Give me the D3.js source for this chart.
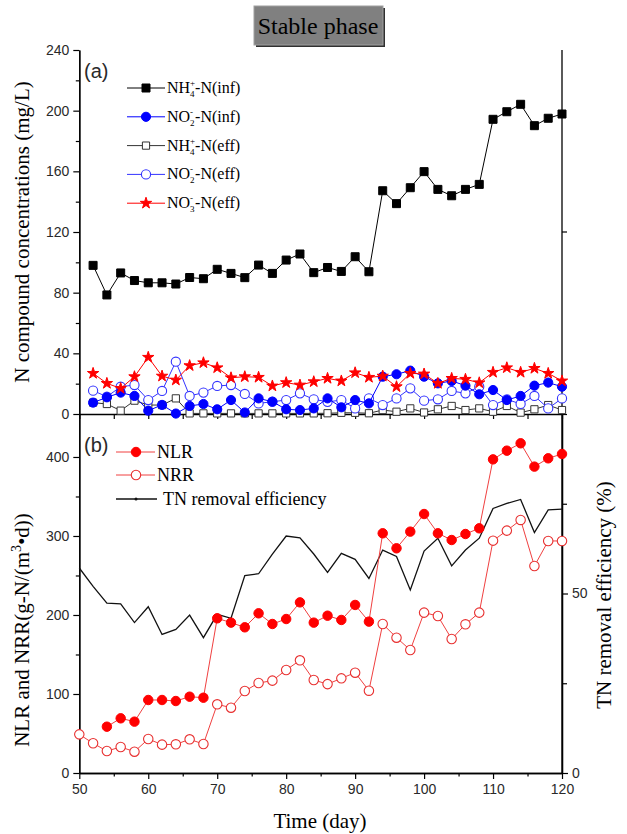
<!DOCTYPE html>
<html>
<head>
<meta charset="utf-8">
<script src="https://cdn.jsdelivr.net/npm/d3@7"></script>
<style>
  body { margin: 0; background: #fff; }
  text { font-family: "Liberation Serif", "Times New Roman", serif; }
  .tick text, .ticklbl { font-family: "Liberation Sans", Arial, sans-serif; font-size: 14px; fill: #2a2a2a; }
</style>
</head>
<body>
<div id="chart"></div>
<script>
'use strict';

// ---- data ----
var daysA = [52,54,56,58,60,62,64,66,68,70,72,74,76,78,80,82,84,86,88,90,92,94,96,98,100,102,104,106,108,110,112,114,116,118,120];
var nh4Inf = [98,78.5,93,88,86.5,86.5,85.7,90,89.2,95.4,92.7,89.9,98.2,92.7,101.5,105.5,93.2,96.6,94,103.7,93.8,147.2,138.7,149.2,159.8,148.1,143.9,148.1,151.4,194.3,199.3,204.2,190.1,195,197.8];
var no2Inf = [7.5,11,14.1,11.9,2.2,6,0.3,5.3,6.6,3.1,9.2,1,10.3,8.1,3.1,2.6,3.7,10.3,4.4,9.2,7,24.6,26.2,28.6,24.6,20.2,21.8,18.7,13,15.8,9.2,11.9,18.7,20.7,18];
var nh4Eff = [7.5,6.6,2.2,8.8,5.9,5.9,10.3,0.4,0.4,0.4,0.4,0.4,0.4,0.4,0.4,0.4,0.4,0.5,0.8,0.8,0.5,2.6,1.5,3.7,1,3.1,5.3,2.6,3.7,1.5,5.3,0.9,3.1,5.9,2.6];
var no2Eff = [15.4,11.4,18,19.1,9.2,15.2,34.5,11.9,14.1,18.5,19.1,13.2,7,8.1,9.2,13.6,9.7,8,9.2,3.7,10.3,5.9,10.3,16.9,8.8,9.7,15.2,13.6,18,5.9,9.7,6.6,11.9,3.7,10.3];
var no3Eff = [26.8,20.2,16.9,24.6,37.4,25,22.4,31.9,33.8,30.5,23.9,24.6,24.2,18.5,20.7,19.1,21.3,23.5,21.8,27.2,24.2,25,18,26.8,26.4,20.2,23.5,22.9,20.6,27.5,30.5,27.5,30.1,26.8,21.8];

var nlrDays = [54,56,58,60,62,64,66,68,70,72,74,76,78,80,82,84,86,88,90,92,94,96,98,100,102,104,106,108,110,112,114,116,118,120];
var nlr = [58.6,69.2,65,92.4,92.4,91.1,96.6,95.3,195.8,190.3,184.4,202.1,188.6,194.9,216,190.3,199.1,193.7,212.7,191.6,303.4,284.4,305.5,327.8,303.4,294.9,302.5,309.7,397,408,417.3,387.8,398.3,403.8];
var daysB = [50,52,54,56,58,60,62,64,66,68,70,72,74,76,78,80,82,84,86,88,90,92,94,96,98,100,102,104,106,108,110,112,114,116,118,120];
var nrr = [48.9,37.6,27.8,32.9,27,43,35.9,36.3,42.6,36.7,86.9,82.7,103.8,113.9,116.9,130.4,142.6,117.7,112.5,119.8,127,104.2,188.6,171.3,155.7,203,198.7,169.6,188.2,203,294.1,306.8,320.3,262,293.7,293.7];
var tnEff = [57.1,52,47.3,47.1,41.9,46.3,38.6,40,44,37.7,44.2,43.1,55,55.5,61,66,65.5,61,55.9,61.2,59.5,54.2,62.1,60.3,51,61.8,65.4,57.7,62.1,65.4,73.7,75.1,76.2,67,73.3,73.5];

var xTicks = [50,60,70,80,90,100,110,120];
var yTicksA = [0,40,80,120,160,200,240];
var yTicksB = [0,100,200,300,400];
var yTicksR = [0,50];

// ---- svg ----
var svg = d3.select("#chart").append("svg")
    .attr("width", 627)
    .attr("height", 834);

var x = d3.scaleLinear().domain([50, 120]).range([79.3, 562]);
var ya = d3.scaleLinear().domain([0, 240]).range([414, 50]);
var yb = d3.scaleLinear().domain([0, 454.4]).range([773, 414]);
var yr = d3.scaleLinear().domain([0, 100]).range([773, 414]);

// title box
svg.append("rect").attr("x", 256).attr("y", 8).attr("width", 129).attr("height", 39).attr("fill", "#303030");
svg.append("rect").attr("x", 254).attr("y", 6).attr("width", 129).attr("height", 39)
    .attr("fill", "#808080").attr("stroke", "#a0a0a0").attr("stroke-width", 1);
svg.append("text").attr("x", 318).attr("y", 34).attr("text-anchor", "middle")
    .attr("font-size", 24).attr("fill", "#000").text("Stable phase");

// ---- axes ----
function styleAxis(g) {
    g.selectAll(".domain").attr("stroke", "#000").attr("stroke-width", 1.3);
    g.selectAll(".tick line").attr("stroke", "#000").attr("stroke-width", 1.2);
}

// panel a left
svg.append("g").attr("transform", "translate(79.3,0)")
    .call(d3.axisLeft(ya).tickValues(yTicksA).tickSize(6).tickSizeOuter(0).tickPadding(4))
    .call(styleAxis);
svg.append("g").attr("transform", "translate(79.3,0)")
    .call(d3.axisLeft(ya).tickValues(d3.range(20, 240, 40)).tickSize(3.5).tickFormat("").tickSizeOuter(0))
    .call(styleAxis);

// panel a bottom (shared border)
svg.append("g").attr("transform", "translate(0,414)")
    .call(d3.axisBottom(x).tickValues(d3.range(50, 121, 5)).tickSize(5).tickFormat("").tickSizeOuter(0))
    .call(styleAxis);

// right border of panels
svg.append("line").attr("x1", 562).attr("x2", 562).attr("y1", 50).attr("y2", 773)
    .attr("stroke", "#000").attr("stroke-width", 1.3);
svg.append("line").attr("x1", 562).attr("x2", 567).attr("y1", ya(120)).attr("y2", ya(120))
    .attr("stroke", "#000").attr("stroke-width", 1.2);

// panel b left
svg.append("g").attr("transform", "translate(79.3,0)")
    .call(d3.axisLeft(yb).tickValues(yTicksB).tickSize(6).tickSizeOuter(0).tickPadding(4))
    .call(styleAxis);
svg.append("g").attr("transform", "translate(79.3,0)")
    .call(d3.axisLeft(yb).tickValues([50,150,250,350]).tickSize(3.5).tickFormat("").tickSizeOuter(0))
    .call(styleAxis);

// panel b right
svg.append("g").attr("transform", "translate(562,0)")
    .call(d3.axisRight(yr).tickValues(yTicksR).tickSize(6).tickSizeOuter(0).tickPadding(4))
    .call(styleAxis);
svg.append("g").attr("transform", "translate(562,0)")
    .call(d3.axisRight(yr).tickValues([25,75,100]).tickSize(5).tickFormat("").tickSizeOuter(0))
    .call(styleAxis);

// panel b bottom
svg.append("g").attr("transform", "translate(0,773)")
    .call(d3.axisBottom(x).tickValues(xTicks).tickSize(6).tickSizeOuter(0).tickPadding(5))
    .call(styleAxis);
svg.append("g").attr("transform", "translate(0,773)")
    .call(d3.axisBottom(x).tickValues(d3.range(55, 120, 10)).tickSize(3.5).tickFormat("").tickSizeOuter(0))
    .call(styleAxis);

// axis titles
svg.append("text").attr("transform", "translate(29,232) rotate(-90)")
    .attr("text-anchor", "middle").attr("font-size", 21).text("N compound concentrations (mg/L)");
var lb = svg.append("text").attr("transform", "translate(29,630) rotate(-90)")
    .attr("text-anchor", "middle").attr("font-size", 21);
lb.append("tspan").text("NLR and NRR(g-N/(m");
lb.append("tspan").attr("font-size", 14).attr("dy", -8).text("3");
lb.append("tspan").attr("dy", 8).text("\u2022d))");
svg.append("text").attr("transform", "translate(611,595) rotate(-90)")
    .attr("text-anchor", "middle").attr("font-size", 21).text("TN removal efficiency (%)");
svg.append("text").attr("x", 320).attr("y", 828)
    .attr("text-anchor", "middle").attr("font-size", 21).text("Time (day)");

// ---- series ----
function toPts(days, vals) {
    return days.map(function(d, i) { return {d: d, v: vals[i]}; });
}
var lineA = d3.line().x(function(p) { return x(p.d); }).y(function(p) { return ya(p.v); });
var lineB = d3.line().x(function(p) { return x(p.d); }).y(function(p) { return yb(p.v); });
var lineR = d3.line().x(function(p) { return x(p.d); }).y(function(p) { return yr(p.v); });

var sq = d3.symbol().type(d3.symbolSquare).size(64);
var sqSmall = d3.symbol().type(d3.symbolSquare).size(52);
var star = d3.symbol().type(d3.symbolStar).size(40);

function drawSeries(pts, line, color, width, marker) {
    var g = svg.append("g");
    g.append("path").datum(pts).attr("d", line)
	.attr("fill", "none").attr("stroke", color).attr("stroke-width", width);
    g.selectAll("path.m").data(pts).enter().append("path")
	.attr("class", "m")
	.attr("transform", function(p) { return "translate(" + x(p.d) + "," + line.y()(p) + ")"; })
	.attr("d", marker.sym)
	.attr("fill", marker.fill)
	.attr("stroke", marker.stroke)
	.attr("stroke-width", marker.sw || 1);
    return g;
}

var mk = {
    nh4Inf: {sym: sq, fill: "#000", stroke: "#000"},
    no2Inf: {sym: d3.symbol().type(d3.symbolCircle).size(66), fill: "#0000ff", stroke: "#0000ff"},
    nh4Eff: {sym: sqSmall, fill: "#fff", stroke: "#333"},
    no2Eff: {sym: d3.symbol().type(d3.symbolCircle).size(66), fill: "#fff", stroke: "#3333ff", sw: 1.1},
    no3Eff: {sym: star, fill: "#ff0000", stroke: "#ff0000"},
    nlr: {sym: d3.symbol().type(d3.symbolCircle).size(70), fill: "#ff0000", stroke: "#ff0000"},
    nrr: {sym: d3.symbol().type(d3.symbolCircle).size(70), fill: "#fff", stroke: "#e83030", sw: 1.1}
};

drawSeries(toPts(daysA, nh4Eff), lineA, "#333", 1, mk.nh4Eff);
drawSeries(toPts(daysA, no2Eff), lineA, "#3333ff", 1, mk.no2Eff);
drawSeries(toPts(daysA, no2Inf), lineA, "#0000ff", 1, mk.no2Inf);
drawSeries(toPts(daysA, no3Eff), lineA, "#ff0000", 1, mk.no3Eff);
drawSeries(toPts(daysA, nh4Inf), lineA, "#000", 1, mk.nh4Inf);

svg.append("path").datum(toPts(daysB, tnEff)).attr("d", lineR)
    .attr("fill", "none").attr("stroke", "#111").attr("stroke-width", 1.3);
drawSeries(toPts(daysB, nrr), lineB, "#f04040", 1, mk.nrr);
drawSeries(toPts(nlrDays, nlr), lineB, "#f04040", 1, mk.nlr);

// ---- legends ----
svg.append("text").attr("class", "ticklbl").attr("x", 84).attr("y", 78).style("font-size", "20px").text("(a)");

function chemLabel(g, lx, ly, base, sup, sub, rest) {
    var t = g.append("text").attr("x", lx).attr("y", ly).attr("font-size", 16).text(base);
    var w = t.node().getComputedTextLength();
    g.append("text").attr("x", lx + w).attr("y", ly - 7).attr("font-size", 9).text(sup);
    g.append("text").attr("x", lx + w).attr("y", ly + 4).attr("font-size", 9).text(sub);
    g.append("text").attr("x", lx + w + 5).attr("y", ly).attr("font-size", 16).text(rest);
}

var legA = [
    {m: mk.nh4Inf, c: "#000", sup: "+", sub: "4", base: "NH", rest: "-N(inf)"},
    {m: mk.no2Inf, c: "#0000ff", sup: "-", sub: "2", base: "NO", rest: "-N(inf)"},
    {m: mk.nh4Eff, c: "#333", sup: "+", sub: "4", base: "NH", rest: "-N(eff)"},
    {m: mk.no2Eff, c: "#3333ff", sup: "-", sub: "2", base: "NO", rest: "-N(eff)"},
    {m: mk.no3Eff, c: "#ff0000", sup: "-", sub: "3", base: "NO", rest: "-N(eff)"}
];
var gl = svg.append("g");
legA.forEach(function(e, i) {
    var ly = 88 + i * 28.8;
    gl.append("line").attr("x1", 127).attr("x2", 165).attr("y1", ly).attr("y2", ly)
	.attr("stroke", e.c).attr("stroke-width", 1);
    gl.append("path").attr("transform", "translate(146," + ly + ")").attr("d", e.m.sym)
	.attr("fill", e.m.fill).attr("stroke", e.m.stroke).attr("stroke-width", e.m.sw || 1);
    chemLabel(gl, 167, ly + 5, e.base, e.sup, e.sub, e.rest);
});

svg.append("text").attr("class", "ticklbl").attr("x", 84).attr("y", 452).style("font-size", "20px").text("(b)");
var legB = [
    {m: mk.nlr, c: "#f04040", t: "NLR", y: 452, x2: 155, tx: 157},
    {m: mk.nrr, c: "#f04040", t: "NRR", y: 475, x2: 155, tx: 157},
    {m: null, c: "#111", t: "TN removal efficiency", y: 499, x2: 157, tx: 163}
];
legB.forEach(function(e) {
    gl.append("line").attr("x1", 116).attr("x2", e.x2).attr("y1", e.y).attr("y2", e.y)
	.attr("stroke", e.c).attr("stroke-width", e.m ? 1 : 1.3);
    if (e.m) {
	gl.append("path").attr("transform", "translate(136," + e.y + ")").attr("d", e.m.sym)
	    .attr("fill", e.m.fill).attr("stroke", e.m.stroke).attr("stroke-width", e.m.sw || 1);
    } else {
	gl.append("circle").attr("cx", 136).attr("cy", e.y).attr("r", 1.5).attr("fill", "#111");
    }
    gl.append("text").attr("x", e.tx).attr("y", e.y + 6).attr("font-size", 18).text(e.t);
});
</script>
</body>
</html>
